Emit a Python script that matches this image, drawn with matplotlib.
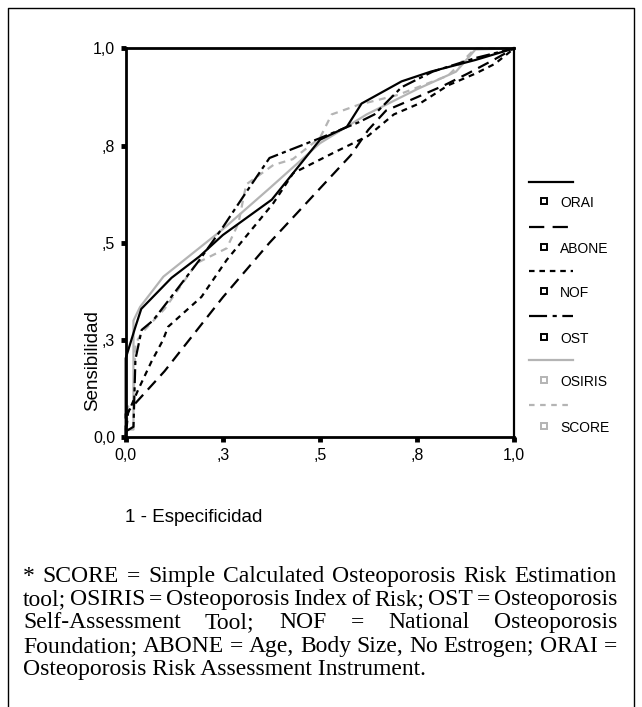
import matplotlib
matplotlib.use("Agg")
import matplotlib.pyplot as plt
from matplotlib.lines import Line2D

plt.rcParams['lines.scale_dashes'] = False

# ---------------- data ----------------
orai_x = [0.0, 0.0, 0.025, 0.04, 0.118, 0.19, 0.25, 0.376, 0.5, 0.569, 0.607, 0.71, 0.785, 0.9, 1.0]
orai_y = [0.0, 0.203, 0.284, 0.33, 0.41, 0.465, 0.52, 0.611, 0.765, 0.798, 0.858, 0.915, 0.94, 0.97, 1.0]

abone_x = [0.0, 0.0, 0.1, 0.25, 0.37, 0.58, 0.624, 0.67, 0.74, 0.82, 0.88, 0.95, 1.0]
abone_y = [0.0, 0.06, 0.17, 0.36, 0.5, 0.726, 0.79, 0.84, 0.87, 0.905, 0.935, 0.972, 1.0]

nof_x = [0.0, 0.006, 0.032, 0.066, 0.096, 0.109, 0.195, 0.26, 0.38, 0.431, 0.534, 0.624, 0.69, 0.76, 0.83, 0.9, 0.95, 1.0]
nof_y = [0.0, 0.062, 0.122, 0.194, 0.25, 0.284, 0.361, 0.456, 0.602, 0.679, 0.731, 0.775, 0.83, 0.86, 0.905, 0.935, 0.96, 1.0]

ost_x = [0.0, 0.02, 0.025, 0.041, 0.07, 0.118, 0.19, 0.25, 0.31, 0.37, 0.5, 0.6, 0.64, 0.71, 0.79, 0.9, 1.0]
ost_y = [0.015, 0.027, 0.2, 0.276, 0.3, 0.362, 0.456, 0.54, 0.63, 0.718, 0.769, 0.81, 0.83, 0.9, 0.94, 0.975, 1.0]

osiris_x = [0.0, 0.02, 0.02, 0.037, 0.097, 0.25, 0.37, 0.5, 0.62, 0.75, 0.85, 0.9, 1.0]
osiris_y = [0.02, 0.02, 0.30, 0.335, 0.413, 0.535, 0.64, 0.756, 0.83, 0.895, 0.94, 0.997, 1.0]

score_x = [0.0, 0.006, 0.02, 0.025, 0.041, 0.1, 0.183, 0.26, 0.29, 0.31, 0.38, 0.43, 0.5, 0.53, 0.6, 0.7, 0.83, 0.9, 1.0]
score_y = [0.0, 0.079, 0.09, 0.24, 0.268, 0.33, 0.448, 0.486, 0.55, 0.65, 0.70, 0.715, 0.77, 0.83, 0.855, 0.88, 0.93, 1.0, 1.0]

series_names = ["ORAI", "ABONE", "NOF", "OST", "OSIRIS", "SCORE"]

tick_vals = [0.0, 0.25, 0.5, 0.75, 1.0]
tick_labels = ["0,0", ",3", ",5", ",8", "1,0"]

x_label = "1 - Especificidad"
y_label = "Sensibilidad"

footnote_lines = [
    "* SCORE = Simple Calculated Osteoporosis Risk Estimation",
    "tool; OSIRIS = Osteoporosis Index of Risk; OST = Osteoporosis",
    "Self-Assessment Tool; NOF = National Osteoporosis",
    "Foundation; ABONE = Age, Body Size, No Estrogen; ORAI =",
    "Osteoporosis Risk Assessment Instrument.",
]

# ---------------- styles ----------------
BLACK = "#000000"
GRAY = "#b4b4b4"
LW = 1.6
styles = {
    "ORAI": dict(color=BLACK, dashes=None),
    "ABONE": dict(color=BLACK, dashes=(8.5, 5)),
    "NOF": dict(color=BLACK, dashes=(4.2, 3.6)),
    "OST": dict(color=BLACK, dashes=(10, 3, 3, 3)),
    "OSIRIS": dict(color=GRAY, dashes=None),
    "SCORE": dict(color=GRAY, dashes=(5, 4)),
}
legend_dashes = {
    "ORAI": None, "ABONE": (11, 6), "NOF": (4, 3.5), "OST": (13, 4, 3, 4),
    "OSIRIS": None, "SCORE": (4, 4),
}

W, H = 642, 707
fig = plt.figure(figsize=(W / 100, H / 100), dpi=100)

def fx(px):
    return px / W

def fy(py):
    return 1 - py / H

ax = fig.add_axes([fx(125.7), fy(437.3), fx(514.3) - fx(125.7), fy(48.3) - fy(437.3)])

data = {
    "ORAI": (orai_x, orai_y), "ABONE": (abone_x, abone_y), "NOF": (nof_x, nof_y),
    "OST": (ost_x, ost_y), "OSIRIS": (osiris_x, osiris_y), "SCORE": (score_x, score_y),
}
for name in ["OSIRIS", "SCORE", "ABONE", "NOF", "OST", "ORAI"]:
    xs, ys = data[name]
    st = styles[name]
    ln, = ax.plot(xs, ys, color=st["color"], lw=LW, clip_on=False)
    if st["dashes"]:
        ln.set_dashes(st["dashes"])

ax.set_xlim(0, 1)
ax.set_ylim(0, 1)
ax.set_xticks(tick_vals)
ax.set_xticklabels(tick_labels)
ax.set_yticks(tick_vals)
ax.set_yticklabels(tick_labels)
for lab in ax.get_xticklabels() + ax.get_yticklabels():
    lab.set_fontfamily("Liberation Sans")
    lab.set_fontsize(11.5)
ax.tick_params(direction="out", length=3.5, width=3.5, color=BLACK, pad=4)
for s in ["left", "bottom", "top"]:
    ax.spines[s].set_linewidth(2.0)
ax.spines["right"].set_linewidth(1.6)

# axis labels
fig.text(fx(93), fy(361), y_label, rotation=90, ha="center", va="center",
         fontsize=13.5, family="Liberation Sans")
fig.text(fx(125), fy(521.7), x_label, ha="left", va="baseline",
         fontsize=13.5, family="Liberation Sans")

# legend (manual, SPSS style)
line_ys = [182, 227, 271, 316, 360, 405]
text_ys = [203, 249, 293, 339, 382, 428]
for name, ly, ty in zip(series_names, line_ys, text_ys):
    col = styles[name]["color"]
    l = Line2D([fx(529), fx(573)], [fy(ly), fy(ly)], transform=fig.transFigure,
               color=col, lw=LW)
    if legend_dashes[name]:
        l.set_dashes(legend_dashes[name])
    fig.add_artist(l)
    fig.add_artist(Line2D([fx(544)], [fy(ty - 2)], transform=fig.transFigure,
                          marker="s", markersize=4.0, markerfacecolor="white",
                          markeredgecolor=col, markeredgewidth=1.4, linestyle="none"))
    fig.text(fx(560), fy(ty), name, ha="left", va="center", fontsize=10,
             family="Liberation Sans")

# outer frame
fig.add_artist(Line2D([fx(8), fx(8), fx(634), fx(634)], [fy(710), fy(8), fy(8), fy(710)],
                      transform=fig.transFigure, color=BLACK, lw=1.0))

# footnote, justified
FS = 17
left_px, right_px = 23, 617
baselines = [581.7, 605.0, 628.3, 651.7, 675.0]
fig.canvas.draw()
r = fig.canvas.get_renderer()
for i, (line, by) in enumerate(zip(footnote_lines, baselines)):
    if i == len(footnote_lines) - 1:
        fig.text(fx(left_px), fy(by), line, ha="left", va="baseline",
                 fontsize=FS, family="Liberation Serif")
        continue
    words = line.split(" ")
    texts = [fig.text(0, fy(by), w, ha="left", va="baseline", fontsize=FS,
                      family="Liberation Serif") for w in words]
    widths = [t.get_window_extent(r).width for t in texts]
    gap = (right_px - left_px - sum(widths)) / (len(words) - 1)
    x = left_px
    for t, w in zip(texts, widths):
        t.set_x(fx(x))
        x += w + gap

fig.savefig("out.png", dpi=100)
